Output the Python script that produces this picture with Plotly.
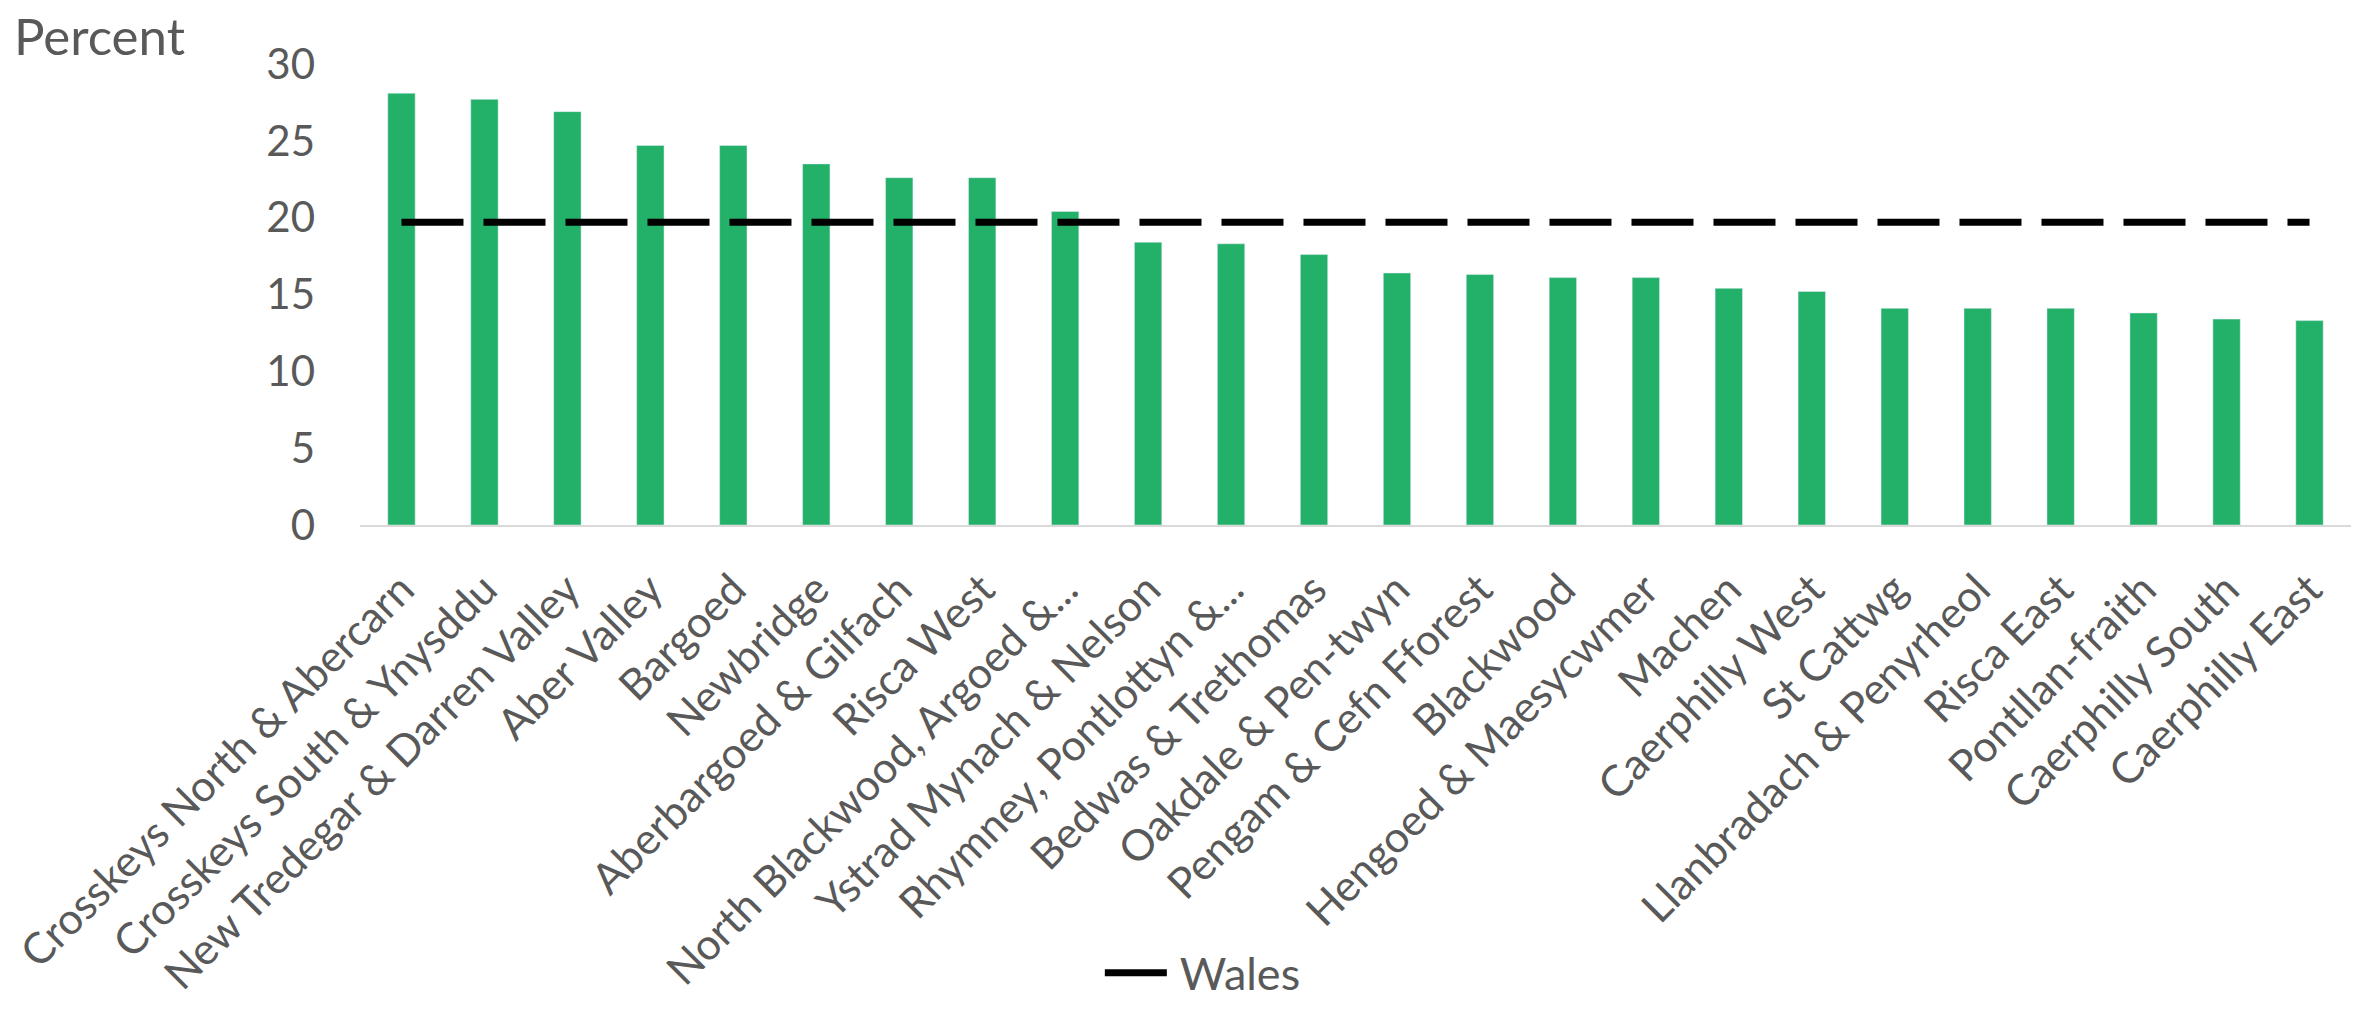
import plotly.graph_objects as go

wards = [
    "Crosskeys North & Abercarn", "Crosskeys South & Ynysddu", "New Tredegar & Darren Valley",
    "Aber Valley", "Bargoed", "Newbridge", "Aberbargoed & Gilfach", "Risca West",
    "North Blackwood, Argoed &...", "Ystrad Mynach & Nelson", "Rhymney, Pontlottyn &...",
    "Bedwas & Trethomas", "Oakdale & Pen-twyn", "Pengam & Cefn Fforest", "Blackwood",
    "Hengoed & Maesycwmer", "Machen", "Caerphilly West", "St Cattwg",
    "Llanbradach & Penyrheol", "Risca East", "Pontllan-fraith", "Caerphilly South",
    "Caerphilly East",
]
percent = [
    28.1, 27.7, 26.9, 24.7, 24.7, 23.5, 22.6, 22.6, 20.4, 18.4, 18.3, 17.6,
    16.4, 16.3, 16.1, 16.1, 15.4, 15.2, 14.1, 14.1, 14.1, 13.8, 13.4, 13.3,
]
wales = [19.7] * len(wards)
y_ticks = [0, 5, 10, 15, 20, 25, 30]

GREEN = "#23B169"
GREY = "#595959"
FONT = "Lato"

fig = go.Figure()

fig.add_trace(go.Bar(
    x=wards,
    y=percent,
    marker_color=GREEN,
    width=0.33,
    showlegend=False,
    name="Percent",
))

fig.add_trace(go.Scatter(
    x=wards,
    y=wales,
    mode="lines",
    name="Wales",
    line=dict(color="black", width=7, dash="62px,20px"),
))

# page body adds an 8px margin, so the figure is a little smaller than the window
fig.update_layout(
    width=2366,
    height=1001,
    margin=dict(l=352, r=23, t=56, b=484),
    plot_bgcolor="white",
    paper_bgcolor="white",
    font=dict(family=FONT, color=GREY, size=40),
    bargap=0.67,
    xaxis=dict(
        tickangle=-45,
        tickfont=dict(size=43, family=FONT, color=GREY),
        showline=True,
        linecolor="#D9D9D9",
        linewidth=2,
        showgrid=False,
        ticks="",
        ticklabelstandoff=20,
        automargin=False,
    ),
    yaxis=dict(
        range=[0, 30],
        tickvals=y_ticks,
        tickfont=dict(size=42, family=FONT, color=GREY),
        showgrid=False,
        zeroline=False,
        ticks="",
        ticklabelstandoff=44,
        automargin=False,
    ),
    legend=dict(
        orientation="h",
        x=0.505,
        xanchor="center",
        xref="container",
        y=0,
        yanchor="bottom",
        yref="container",
        font=dict(size=45, family=FONT, color=GREY),
        itemwidth=70,
    ),
    annotations=[dict(
        text="Percent",
        xref="paper", yref="paper",
        x=0, y=1,
        xanchor="left", yanchor="bottom",
        xshift=-348, yshift=-4,
        showarrow=False,
        font=dict(size=51, family=FONT, color=GREY),
    )],
)

fig.write_html("out.html")
